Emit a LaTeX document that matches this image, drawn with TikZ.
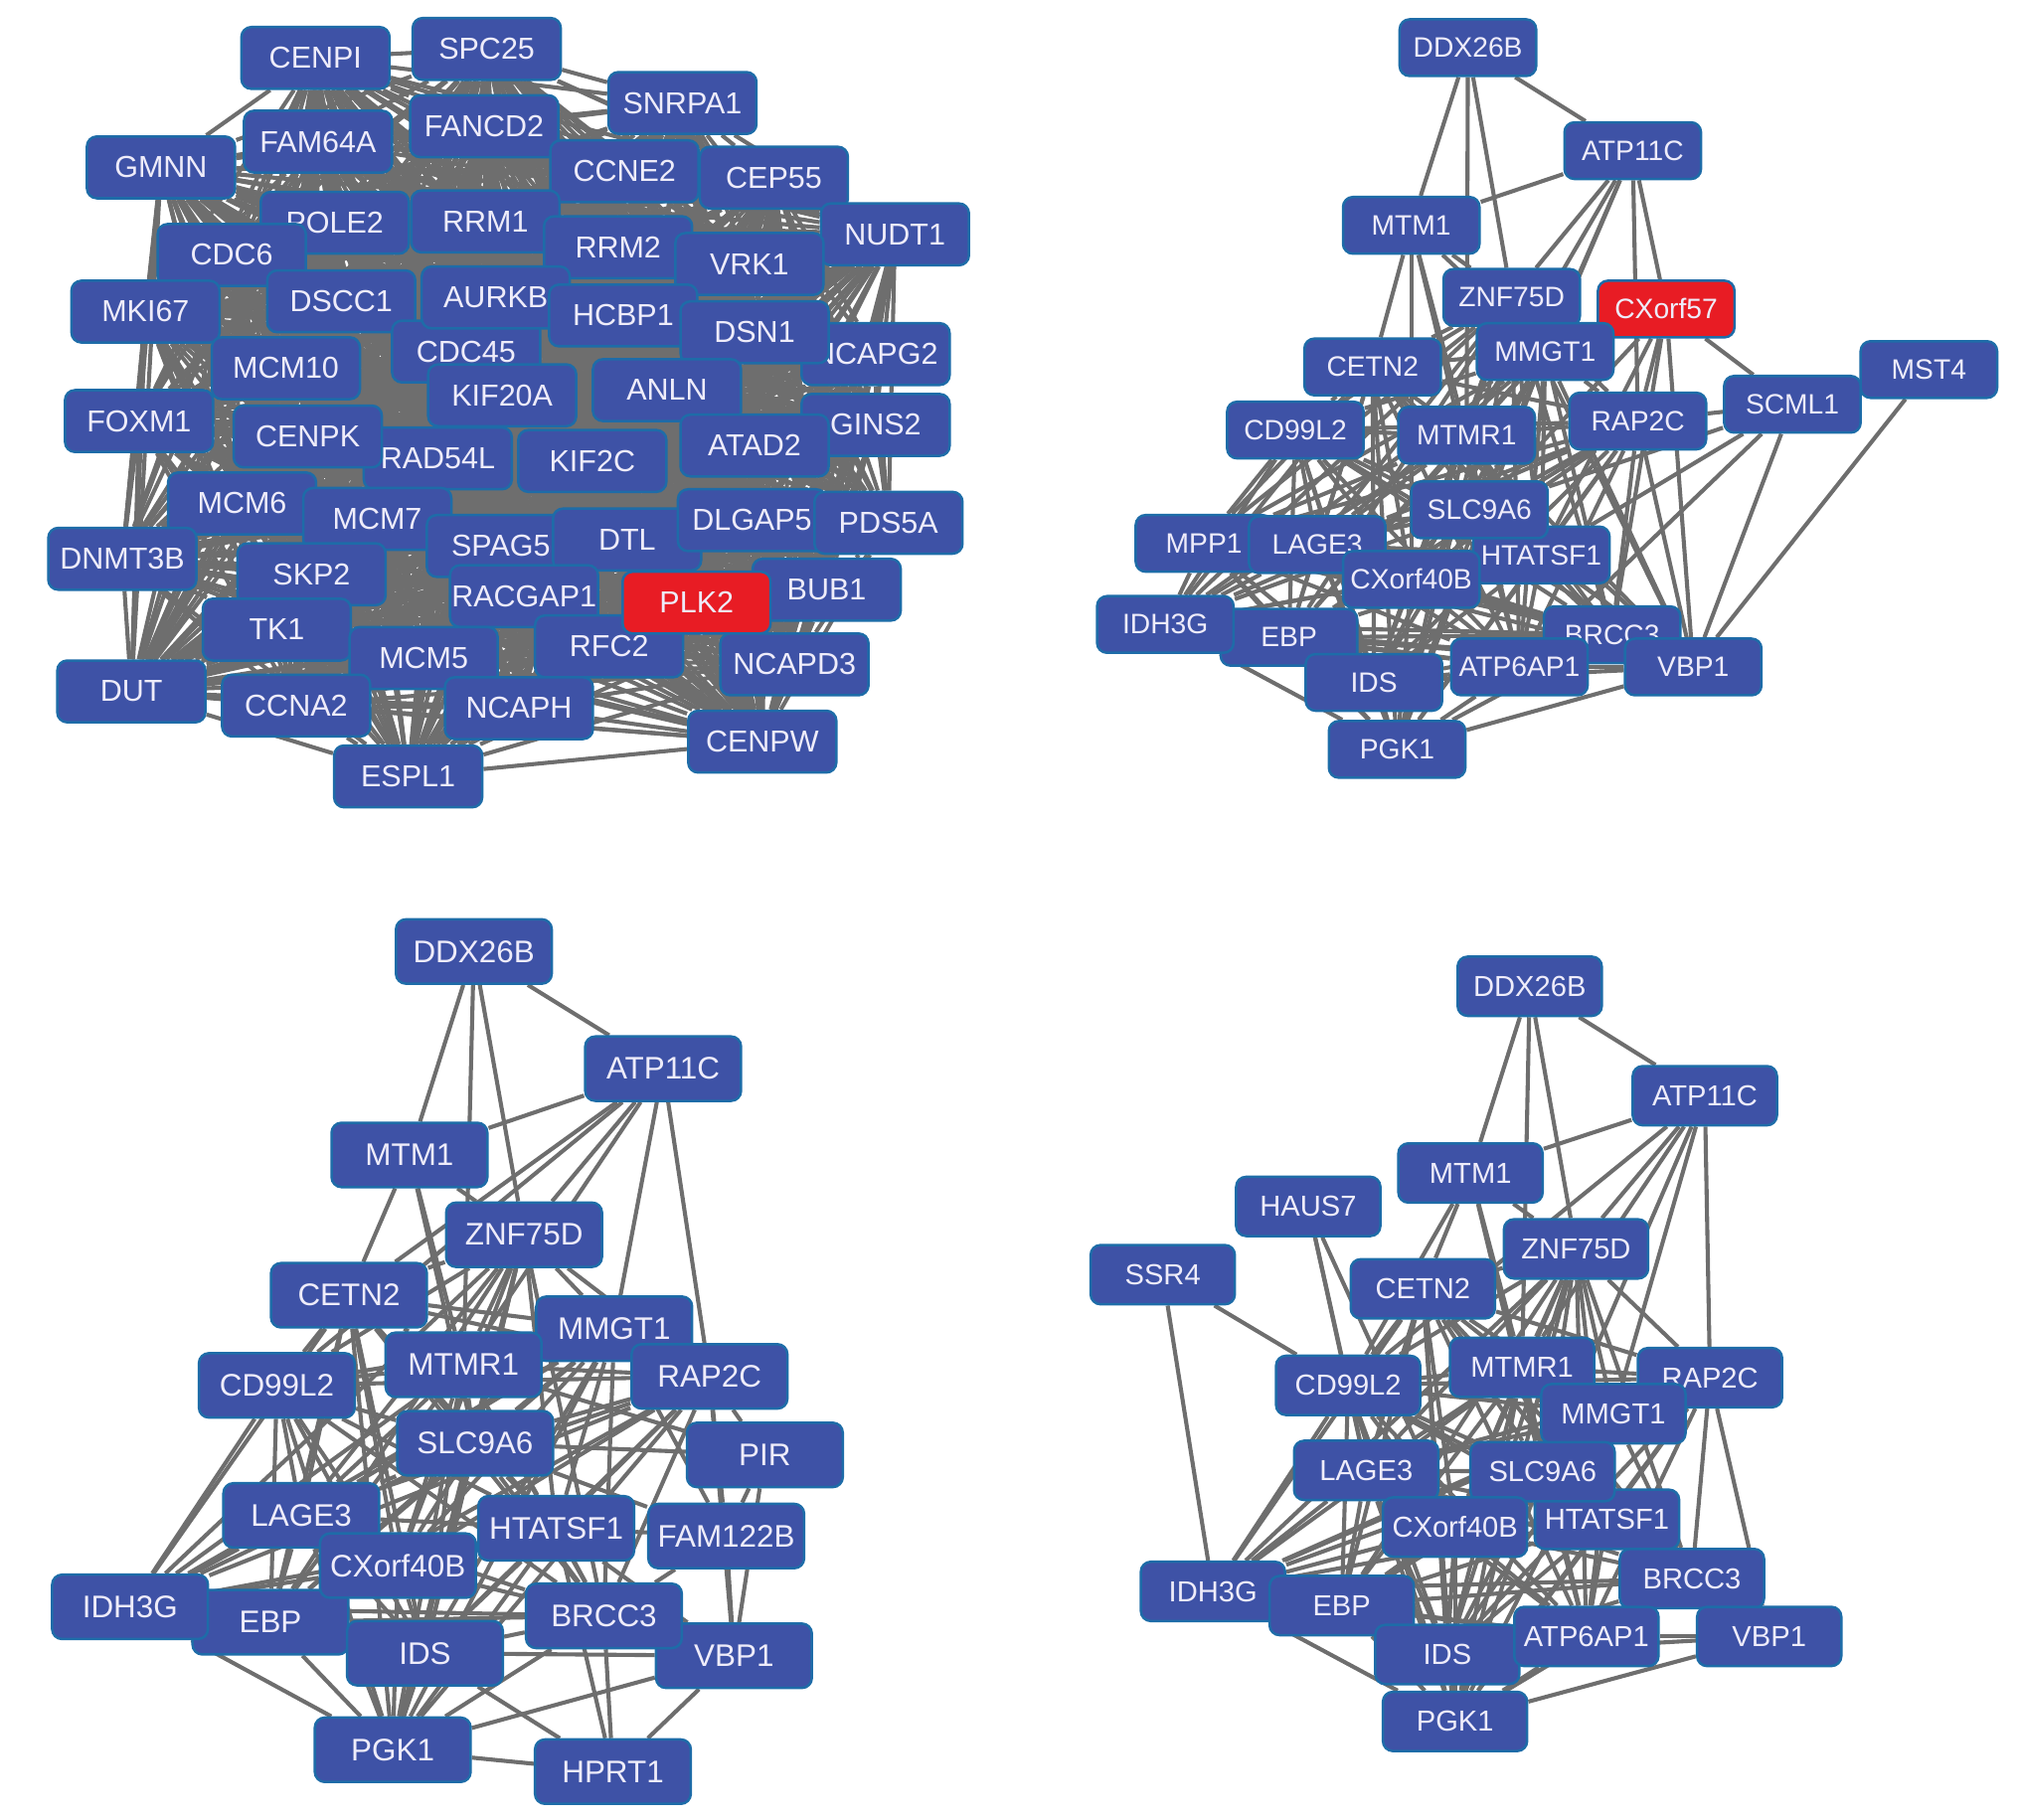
\documentclass[tikz,border=0pt]{standalone}
\usepackage{fontspec}
\setmainfont{Liberation Sans}
\usepackage{tikz}
\usepackage{xcolor}
\usetikzlibrary{backgrounds}

\definecolor{geneblue}{RGB}{62,82,166}
\definecolor{genered}{RGB}{232,28,36}
\definecolor{generim}{RGB}{30,108,168}
\definecolor{genetext}{RGB}{238,236,250}
\definecolor{linkgray}{RGB}{110,110,110}

\tikzset{
  gene/.style={draw=generim, line width=0.55pt, fill=geneblue, rounded corners=2.2pt,
    text=genetext, inner sep=0pt},
  hub/.style={fill=genered},
  geneA/.style={gene, minimum width=1.15cm, minimum height=0.48cm, font=\fontsize{6.7}{8}\selectfont},
  geneB/.style={gene, minimum width=1.06cm, minimum height=0.44cm, font=\fontsize{6.2}{7.5}\selectfont},
  geneC/.style={gene, minimum width=1.21cm, minimum height=0.50cm, font=\fontsize{6.9}{8}\selectfont},
  geneD/.style={gene, minimum width=1.12cm, minimum height=0.46cm, font=\fontsize{6.4}{7.5}\selectfont},
  link/.style={draw=linkgray, line width=0.9pt}
}

% every pair of a list is linked
\newcommand{\linkall}[1]{%
  \foreach \u [count=\i] in #1 {%
    \foreach \v [count=\j] in #1 {%
      \ifnum\j>\i\relax \draw[link] (\u) -- (\v);\fi
    }%
  }%
}

\begin{document}
\begin{tikzpicture}
    \useasboundingbox (0,0) rectangle (15.68,-14.13);

    % top left
    \node[geneA] (aCENPI) at (2.45,-0.45) {CENPI};
    \node[geneA] (aSPC25) at (3.78,-0.38) {SPC25};
    \node[geneA] (aSNRPA1) at (5.30,-0.80) {SNRPA1};
    \node[geneA] (aFAM64A) at (2.47,-1.10) {FAM64A};
    \node[geneA] (aFANCD2) at (3.76,-0.98) {FANCD2};
    \node[geneA] (aGMNN) at (1.25,-1.30) {GMNN};
    \node[geneA] (aCCNE2) at (4.85,-1.33) {CCNE2};
    \node[geneA] (aCEP55) at (6.01,-1.38) {CEP55};
    \node[geneA] (aPOLE2) at (2.60,-1.73) {POLE2};
    \node[geneA] (aRRM1) at (3.77,-1.72) {RRM1};
    \node[geneA] (aNUDT1) at (6.95,-1.82) {NUDT1};
    \node[geneA] (aRRM2) at (4.80,-1.92) {RRM2};
    \node[geneA] (aVRK1) at (5.82,-2.05) {VRK1};
    \node[geneA] (aCDC6) at (1.80,-1.98) {CDC6};
    \node[geneA] (aMKI67) at (1.13,-2.42) {MKI67};
    \node[geneA] (aDSCC1) at (2.65,-2.34) {DSCC1};
    \node[geneA] (aCDC45) at (3.62,-2.73) {CDC45};
    \node[geneA] (aAURKB) at (3.85,-2.31) {AURKB};
    \node[geneA] (aHCBP1) at (4.84,-2.45) {HCBP1};
    \node[geneA] (aNCAPG2) at (6.80,-2.75) {NCAPG2};
    \node[geneA] (aDSN1) at (5.86,-2.58) {DSN1};
    \node[geneA] (aMCM10) at (2.22,-2.86) {MCM10};
    \node[geneA] (aKIF20A) at (3.90,-3.07) {KIF20A};
    \node[geneA] (aANLN) at (5.18,-3.03) {ANLN};
    \node[geneA] (aFOXM1) at (1.08,-3.27) {FOXM1};
    \node[geneA] (aGINS2) at (6.80,-3.30) {GINS2};
    \node[geneA] (aRAD54L) at (3.40,-3.56) {RAD54L};
    \node[geneA] (aCENPK) at (2.39,-3.39) {CENPK};
    \node[geneA] (aKIF2C) at (4.60,-3.58) {KIF2C};
    \node[geneA] (aATAD2) at (5.86,-3.46) {ATAD2};
    \node[geneA] (aMCM6) at (1.88,-3.91) {MCM6};
    \node[geneA] (aMCM7) at (2.93,-4.03) {MCM7};
    \node[geneA] (aDNMT3B) at (0.95,-4.34) {DNMT3B};
    \node[geneA] (aSPAG5) at (3.89,-4.24) {SPAG5};
    \node[geneA] (aDTL) at (4.87,-4.19) {DTL};
    \node[geneA] (aDLGAP5) at (5.84,-4.04) {DLGAP5};
    \node[geneA] (aPDS5A) at (6.90,-4.06) {PDS5A};
    \node[geneA] (aSKP2) at (2.42,-4.46) {SKP2};
    \node[geneA] (aRACGAP1) at (4.07,-4.63) {RACGAP1};
    \node[geneA] (aBUB1) at (6.42,-4.58) {BUB1};
    \node[geneA] (aTK1) at (2.15,-4.89) {TK1};
    \node[geneA] (aMCM5) at (3.29,-5.11) {MCM5};
    \node[geneA] (aRFC2) at (4.73,-5.02) {RFC2};
    \node[geneA,hub] (aPLK2) at (5.41,-4.68) {PLK2};
    \node[geneA] (aNCAPD3) at (6.17,-5.16) {NCAPD3};
    \node[geneA] (aDUT) at (1.02,-5.37) {DUT};
    \node[geneA] (aCCNA2) at (2.30,-5.48) {CCNA2};
    \node[geneA] (aNCAPH) at (4.03,-5.50) {NCAPH};
    \node[geneA] (aCENPW) at (5.92,-5.76) {CENPW};
    \node[geneA] (aESPL1) at (3.17,-6.03) {ESPL1};

    % top right
    \node[geneB] (bDDX26B) at (11.40,-0.37) {DDX26B};
    \node[geneB] (bATP11C) at (12.68,-1.17) {ATP11C};
    \node[geneB] (bMTM1) at (10.96,-1.75) {MTM1};
    \node[geneB] (bZNF75D) at (11.74,-2.31) {ZNF75D};
    \node[geneB,hub] (bCXorf57) at (12.94,-2.40) {CXorf57};
    \node[geneB] (bMMGT1) at (12.00,-2.73) {MMGT1};
    \node[geneB] (bCETN2) at (10.66,-2.85) {CETN2};
    \node[geneB] (bMST4) at (14.98,-2.87) {MST4};
    \node[geneB] (bSCML1) at (13.92,-3.14) {SCML1};
    \node[geneB] (bRAP2C) at (12.72,-3.27) {RAP2C};
    \node[geneB] (bCD99L2) at (10.06,-3.34) {CD99L2};
    \node[geneB] (bMTMR1) at (11.39,-3.38) {MTMR1};
    \node[geneB] (bHTATSF1) at (11.97,-4.31) {HTATSF1};
    \node[geneB] (bSLC9A6) at (11.49,-3.96) {SLC9A6};
    \node[geneB] (bMPP1) at (9.35,-4.22) {MPP1};
    \node[geneB] (bLAGE3) at (10.23,-4.23) {LAGE3};
    \node[geneB] (bCXorf40B) at (10.96,-4.50) {CXorf40B};
    \node[geneB] (bBRCC3) at (12.52,-4.93) {BRCC3};
    \node[geneB] (bEBP) at (10.01,-4.95) {EBP};
    \node[geneB] (bIDH3G) at (9.05,-4.85) {IDH3G};
    \node[geneB] (bIDS) at (10.67,-5.30) {IDS};
    \node[geneB] (bATP6AP1) at (11.80,-5.18) {ATP6AP1};
    \node[geneB] (bVBP1) at (13.15,-5.18) {VBP1};
    \node[geneB] (bPGK1) at (10.85,-5.82) {PGK1};

    % bottom left
    \node[geneC] (cDDX26B) at (3.68,-7.39) {DDX26B};
    \node[geneC] (cATP11C) at (5.15,-8.30) {ATP11C};
    \node[geneC] (cMTM1) at (3.18,-8.97) {MTM1};
    \node[geneC] (cZNF75D) at (4.07,-9.59) {ZNF75D};
    \node[geneC] (cCETN2) at (2.71,-10.06) {CETN2};
    \node[geneC] (cMMGT1) at (4.77,-10.32) {MMGT1};
    \node[geneC] (cMTMR1) at (3.60,-10.60) {MTMR1};
    \node[geneC] (cCD99L2) at (2.15,-10.76) {CD99L2};
    \node[geneC] (cRAP2C) at (5.51,-10.69) {RAP2C};
    \node[geneC] (cSLC9A6) at (3.69,-11.21) {SLC9A6};
    \node[geneC] (cPIR) at (5.94,-11.30) {PIR};
    \node[geneC] (cLAGE3) at (2.34,-11.77) {LAGE3};
    \node[geneC] (cHTATSF1) at (4.32,-11.87) {HTATSF1};
    \node[geneC] (cFAM122B) at (5.64,-11.93) {FAM122B};
    \node[geneC] (cEBP) at (2.10,-12.60) {EBP};
    \node[geneC] (cIDH3G) at (1.01,-12.48) {IDH3G};
    \node[geneC] (cCXorf40B) at (3.09,-12.16) {CXorf40B};
    \node[geneC] (cVBP1) at (5.70,-12.86) {VBP1};
    \node[geneC] (cBRCC3) at (4.69,-12.55) {BRCC3};
    \node[geneC] (cIDS) at (3.30,-12.84) {IDS};
    \node[geneC] (cPGK1) at (3.05,-13.59) {PGK1};
    \node[geneC] (cHPRT1) at (4.76,-13.76) {HPRT1};

    % bottom right
    \node[geneD] (dDDX26B) at (11.88,-7.66) {DDX26B};
    \node[geneD] (dATP11C) at (13.24,-8.51) {ATP11C};
    \node[geneD] (dMTM1) at (11.42,-9.11) {MTM1};
    \node[geneD] (dHAUS7) at (10.16,-9.37) {HAUS7};
    \node[geneD] (dZNF75D) at (12.24,-9.70) {ZNF75D};
    \node[geneD] (dSSR4) at (9.03,-9.90) {SSR4};
    \node[geneD] (dCETN2) at (11.05,-10.01) {CETN2};
    \node[geneD] (dCD99L2) at (10.47,-10.76) {CD99L2};
    \node[geneD] (dMTMR1) at (11.82,-10.62) {MTMR1};
    \node[geneD] (dRAP2C) at (13.28,-10.70) {RAP2C};
    \node[geneD] (dMMGT1) at (12.53,-10.98) {MMGT1};
    \node[geneD] (dLAGE3) at (10.61,-11.42) {LAGE3};
    \node[geneD] (dHTATSF1) at (12.48,-11.80) {HTATSF1};
    \node[geneD] (dSLC9A6) at (11.98,-11.43) {SLC9A6};
    \node[geneD] (dCXorf40B) at (11.30,-11.86) {CXorf40B};
    \node[geneD] (dBRCC3) at (13.14,-12.26) {BRCC3};
    \node[geneD] (dIDH3G) at (9.42,-12.36) {IDH3G};
    \node[geneD] (dEBP) at (10.42,-12.47) {EBP};
    \node[geneD] (dIDS) at (11.24,-12.85) {IDS};
    \node[geneD] (dATP6AP1) at (12.32,-12.71) {ATP6AP1};
    \node[geneD] (dVBP1) at (13.74,-12.71) {VBP1};
    \node[geneD] (dPGK1) at (11.30,-13.37) {PGK1};

    \begin{scope}[on background layer]
    \linkall{{aCENPI,aSPC25,aSNRPA1,aFAM64A,aFANCD2,aGMNN,aCCNE2,aCEP55,aPOLE2,aRRM1,aNUDT1,aRRM2,aVRK1,aCDC6,aMKI67,aDSCC1,aCDC45,aAURKB,aHCBP1,aNCAPG2,aDSN1,aMCM10,aKIF20A,aANLN,aFOXM1,aGINS2,aRAD54L,aCENPK,aKIF2C,aATAD2,aMCM6,aMCM7,aDNMT3B,aSPAG5,aDTL,aDLGAP5,aPDS5A,aSKP2,aRACGAP1,aBUB1,aTK1,aMCM5,aRFC2,aPLK2,aNCAPD3,aDUT,aCCNA2,aNCAPH,aCENPW,aESPL1}}
    \linkall{{bCETN2,bCD99L2,bMTMR1,bMMGT1,bZNF75D,bRAP2C,bSLC9A6,bLAGE3,bMPP1,bHTATSF1,bCXorf40B,bIDH3G,bEBP,bBRCC3,bIDS,bATP6AP1,bVBP1,bPGK1}}
    \linkall{{cCETN2,cCD99L2,cMTMR1,cMMGT1,cZNF75D,cRAP2C,cSLC9A6,cLAGE3,cHTATSF1,cCXorf40B,cIDH3G,cEBP,cBRCC3,cIDS,cPGK1}}
    \linkall{{dCETN2,dCD99L2,dMTMR1,dZNF75D,dMMGT1,dRAP2C,dLAGE3,dSLC9A6,dCXorf40B,dHTATSF1,dBRCC3,dIDH3G,dEBP,dIDS,dATP6AP1,dPGK1}}

    \foreach \u/\v in {bDDX26B/bMTM1, bDDX26B/bMTMR1, bDDX26B/bZNF75D, bDDX26B/bATP11C,
        bATP11C/bMTM1, bATP11C/bCXorf57, bATP11C/bZNF75D, bATP11C/bMMGT1, bATP11C/bMTMR1,
        bATP11C/bSLC9A6, bATP11C/bRAP2C, bMTM1/bZNF75D, bMTM1/bCETN2, bMTM1/bMTMR1,
        bMTM1/bMMGT1, bMTM1/bSLC9A6, bMTM1/bCXorf40B, bCXorf57/bSCML1, bCXorf57/bMMGT1,
        bCXorf57/bRAP2C, bCXorf57/bSLC9A6, bCXorf57/bBRCC3, bCXorf57/bVBP1, bCXorf57/bHTATSF1,
        bSCML1/bRAP2C, bSCML1/bHTATSF1, bSCML1/bVBP1, bSCML1/bATP6AP1, bSCML1/bSLC9A6,
        bMST4/bVBP1}
        \draw[link] (\u) -- (\v);

    \foreach \u/\v in {cDDX26B/cMTM1, cDDX26B/cMTMR1, cDDX26B/cZNF75D, cDDX26B/cATP11C,
        cATP11C/cMTM1, cATP11C/cZNF75D, cATP11C/cCETN2, cATP11C/cCD99L2, cATP11C/cMTMR1,
        cATP11C/cMMGT1, cATP11C/cRAP2C, cMTM1/cZNF75D, cMTM1/cMTMR1, cMTM1/cCETN2,
        cMTM1/cSLC9A6, cPIR/cRAP2C, cPIR/cMTMR1, cPIR/cFAM122B, cPIR/cVBP1, cPIR/cSLC9A6,
        cFAM122B/cVBP1, cFAM122B/cBRCC3, cFAM122B/cHTATSF1, cFAM122B/cRAP2C, cFAM122B/cMMGT1,
        cFAM122B/cSLC9A6, cVBP1/cBRCC3, cVBP1/cPGK1, cVBP1/cRAP2C, cVBP1/cIDS, cVBP1/cHTATSF1,
        cHPRT1/cPGK1, cHPRT1/cBRCC3, cHPRT1/cVBP1, cHPRT1/cIDS, cHPRT1/cHTATSF1}
        \draw[link] (\u) -- (\v);

    \foreach \u/\v in {dDDX26B/dMTM1, dDDX26B/dMTMR1, dDDX26B/dZNF75D, dDDX26B/dATP11C,
        dATP11C/dMTM1, dATP11C/dZNF75D, dATP11C/dMTMR1, dATP11C/dMMGT1, dATP11C/dCD99L2,
        dATP11C/dRAP2C, dATP11C/dSLC9A6, dMTM1/dZNF75D, dMTM1/dCETN2, dMTM1/dMTMR1,
        dMTM1/dCD99L2, dMTM1/dSLC9A6, dHAUS7/dCD99L2, dHAUS7/dLAGE3, dHAUS7/dCXorf40B,
        dSSR4/dIDH3G, dSSR4/dCD99L2, dVBP1/dATP6AP1, dVBP1/dPGK1, dVBP1/dBRCC3,
        dVBP1/dRAP2C, dVBP1/dIDS}
        \draw[link] (\u) -- (\v);
    \end{scope}
\end{tikzpicture}
\end{document}
